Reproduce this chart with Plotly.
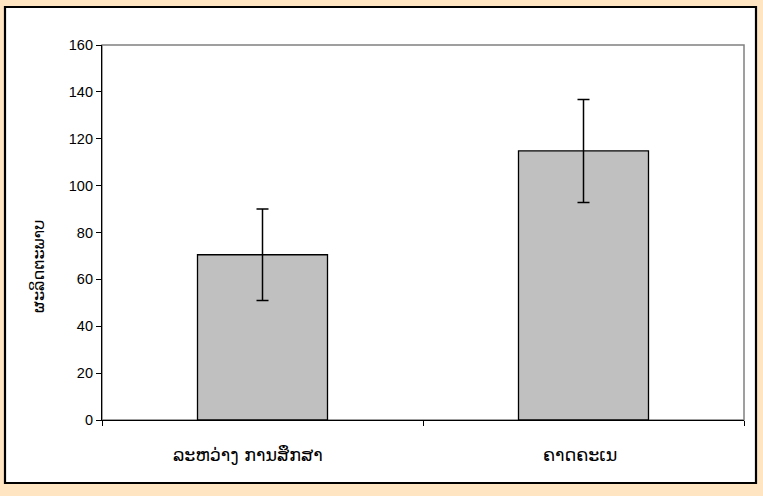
import plotly.graph_objects as go

categories = ["ລະຫວ່າງ ການສຶກສາ", "ຄາດຄະເນ"]
values = [70.5, 114.8]
errors = [19.5, 22.0]
y_title = "ຜະລິດຕະພາບ"
y_ticks = [0, 20, 40, 60, 80, 100, 120, 140, 160]

W, H = 763, 496
L, R, T, B = 102, 744, 45, 420

fig = go.Figure()
fig.add_trace(go.Bar(
    x=categories, y=values,
    width=0.405,
    marker=dict(color="#C0C0C0", line=dict(color="black", width=1.3)),
    error_y=dict(type="data", array=errors, visible=True,
                 color="black", thickness=1.5, width=6),
))

pw = R - L
ph = B - T
def px2x(p):
    return (p - L) / pw
def py2y(p):
    return (B - p) / ph

fig.add_shape(type="rect", xref="paper", yref="paper",
              x0=px2x(5), x1=px2x(756), y0=py2y(483), y1=py2y(7),
              fillcolor="white", line=dict(color="black", width=2.2), layer="below")
fig.add_shape(type="rect", xref="x domain", yref="y domain",
              x0=0, x1=1, y0=0, y1=1,
              line=dict(color="#808080", width=1.5), layer="below")

# category labels (drawn at the category positions of the x axis)
label_xshift = {categories[0]: -15, categories[1]: -4}
for c in categories:
    fig.add_annotation(x=c, xref="x", y=0, yref="paper", yanchor="middle",
                       yshift=-35, xshift=label_xshift[c], showarrow=False, text=c,
                       font=dict(family="DejaVu Sans", size=17.5, color="black"))

# y axis title
fig.add_annotation(x=px2x(38), xref="paper", y=py2y(267), yref="paper",
                   textangle=-90, showarrow=False, text=y_title,
                   xanchor="center", yanchor="middle",
                   font=dict(family="DejaVu Sans", size=16, color="black"))

fig.update_layout(
    width=W, height=H,
    margin=dict(l=L, r=W - R, t=T, b=H - B),
    paper_bgcolor="#FFE5C1",
    plot_bgcolor="white",
    showlegend=False,
    font=dict(family="Liberation Sans, DejaVu Sans", size=13, color="black"),
    bargap=0.6,
)
fig.update_xaxes(
    showline=True, linecolor="black", linewidth=1.2,
    ticks="outside", ticklen=5, tickcolor="black", tickson="boundaries",
    showgrid=False, zeroline=False, showticklabels=False,
)
fig.update_yaxes(
    range=[0, 160], tickvals=y_ticks,
    showline=True, linecolor="black", linewidth=1.2,
    ticks="outside", ticklen=5, tickcolor="black",
    showgrid=False, zeroline=False,
    tickfont=dict(family="Liberation Sans", size=14.5),
)

fig.write_html("out.html", config={"displayModeBar": False},
               post_script="document.body.style.margin='0';")
